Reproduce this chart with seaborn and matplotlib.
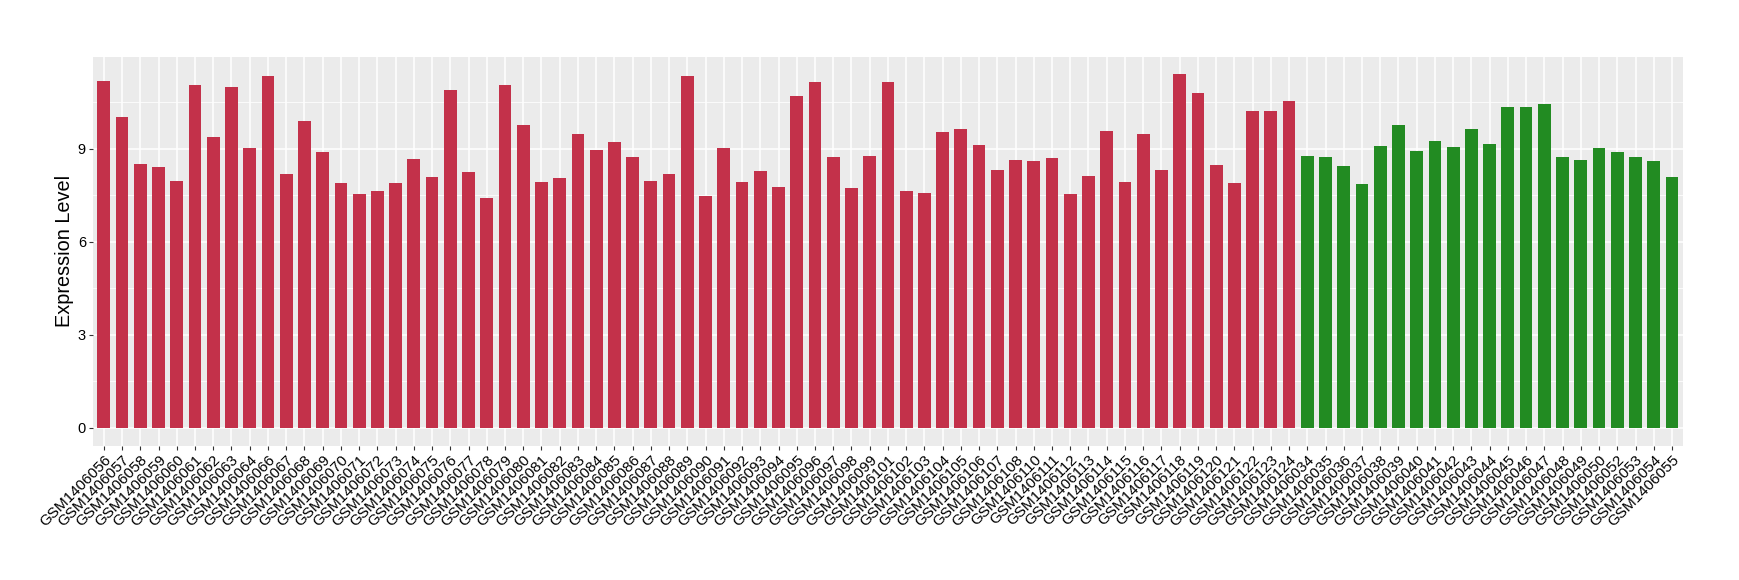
import numpy as np
import pandas as pd
import matplotlib
matplotlib.use("Agg")
import matplotlib.pyplot as plt
from matplotlib.ticker import FixedLocator
import seaborn as sns

# sample ids (red group first, then green group)
red_ids = ["056", "057", "058", "059", "060", "061", "062", "063", "064", "066",
           "067", "068", "069", "070", "071", "072", "073", "074", "075", "076",
           "077", "078", "079", "080", "081", "082", "083", "084", "085", "086",
           "087", "088", "089", "090", "091", "092", "093", "094", "095", "096",
           "097", "098", "099", "101", "102", "103", "104", "105", "106", "107",
           "108", "110", "111", "112", "113", "114", "115", "116", "117", "118",
           "119", "120", "121", "122", "123", "124"]
green_ids = ["034", "035", "036", "037", "038", "039", "040", "041", "042", "043",
             "044", "045", "046", "047", "048", "049", "050", "052", "053", "054",
             "055"]

red_values = [11.17, 10.01, 8.50, 8.40, 7.95, 11.04, 9.36, 11.00, 9.01, 11.33,
              8.17, 9.88, 8.88, 7.89, 7.53, 7.63, 7.89, 8.66, 8.08, 10.88,
              8.24, 7.40, 11.04, 9.75, 7.92, 8.05, 9.46, 8.95, 9.20, 8.72,
              7.95, 8.17, 11.33, 7.47, 9.01, 7.92, 8.27, 7.76, 10.71, 11.13,
              8.72, 7.72, 8.75, 11.13, 7.63, 7.56, 9.53, 9.62, 9.11, 8.30,
              8.62, 8.59, 8.69, 7.53, 8.11, 9.56, 7.92, 9.46, 8.30, 11.39,
              10.78, 8.46, 7.89, 10.20, 10.20, 10.52]
green_values = [8.75, 8.72, 8.43, 7.85, 9.08, 9.75, 8.91, 9.24, 9.04, 9.62,
                9.14, 10.33, 10.33, 10.43, 8.72, 8.62, 9.01, 8.88, 8.72, 8.59,
                8.08]

y_ticks = [0, 3, 6, 9]
y_minor = [1.5, 4.5, 7.5, 10.5]

red_color = "#C3314A"
green_color = "#228B22"

df = pd.DataFrame({
    "sample": ["GSM1406" + s for s in red_ids + green_ids],
    "value": red_values + green_values,
    "group": ["A"] * len(red_ids) + ["B"] * len(green_ids),
})

plt.rcParams["font.family"] = ["Liberation Sans", "DejaVu Sans"]

fig = plt.figure(figsize=(17.4, 5.8), dpi=100)
ax = fig.add_axes([0.0534, 0.2316, 0.9138, 0.6706])

sns.barplot(data=df, x="sample", y="value", hue="group",
            palette={"A": red_color, "B": green_color}, saturation=1,
            dodge=False, width=0.7, legend=False, ax=ax, zorder=3)

# ggplot-like panel
ax.set_facecolor("#EBEBEB")
for s in ax.spines.values():
    s.set_visible(False)
ax.set_ylim(-0.57, 11.96)
ax.set_xlim(-0.6, len(df) - 0.4)
ax.yaxis.set_major_locator(FixedLocator(y_ticks))
ax.yaxis.set_minor_locator(FixedLocator(y_minor))
ax.grid(which="major", axis="both", color="white", linewidth=1.1, zorder=0)
ax.grid(which="minor", axis="y", color="white", linewidth=0.55, zorder=0)
ax.set_axisbelow(True)
ax.tick_params(axis="both", which="major", length=3, width=0.8, color="#333333",
               labelcolor="black", pad=2)
ax.tick_params(axis="x", labelsize=11)
ax.tick_params(axis="y", labelsize=10.5)
ax.tick_params(axis="y", which="minor", length=0)
plt.setp(ax.get_xticklabels(), rotation=45, ha="right", rotation_mode="anchor")
ax.set_xlabel("")
ax.set_ylabel("Expression Level", fontsize=14.3, labelpad=3)

fig.savefig("out.png", dpi=100)
